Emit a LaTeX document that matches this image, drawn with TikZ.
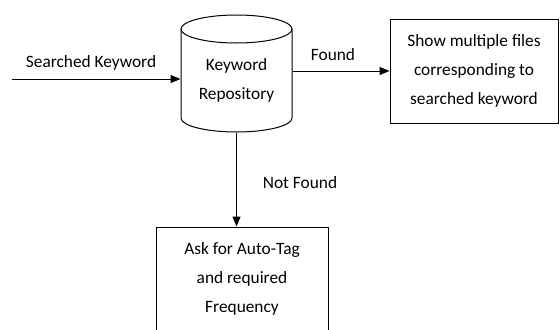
\documentclass[tikz,border=0pt]{standalone}
\usepackage{fontspec}
\setmainfont{Carlito}
\usetikzlibrary{arrows.meta}

\tikzset{every picture/.style={line width=0.75pt}}
\tikzset{
  lbl/.style={font=\fontsize{13}{21.75}\selectfont, inner sep=0pt},
  procbox/.style={draw, align=center, font=\fontsize{13}{21.75}\selectfont, minimum height=78pt},
  flow/.style={-{Triangle[length=7.5pt,width=6pt]}}
}

\begin{document}
\begin{tikzpicture}[x=0.75pt,y=0.75pt,yscale=-1,xscale=1]
    %set diagram size 560 x 329
    \useasboundingbox (0,0) rectangle (560,329);
    \clip (0,0) rectangle (560,329);
    %Shape: Can [id:repo]
    \node[lbl, minimum width=83.25pt, minimum height=87.75pt, align=center] (repo) at (236.5,73.5) {};
    \draw (181,29) -- (181,118) arc (180:0:55.5 and 14) -- (292,29) ;
    \draw (236.5,29) ellipse (55.5 and 14) ;
    \node[lbl, align=center] (repotext) at (236.5,80) {Keyword\\Repository};
    %Shape: Rectangle [id:show]
    \node[procbox, minimum width=126pt] (show) at (474,71) {Show multiple files\\corresponding to\\searched keyword};
    %Shape: Rectangle [id:ask]
    \node[procbox, minimum width=129pt] (ask) at (242,279) {Ask for Auto-Tag\\and required\\Frequency};
    %Straight Lines [id:in]
    \coordinate (in) at (12,79);
    \draw[flow] (in) -- (in -| repo.west);
    \node[lbl] (searched) at (91,63) {Searched Keyword};
    %Straight Lines [id:found]
    \draw[flow] (repo.east |- show) -- (show.west);
    \node[lbl] (found) at (333,55) {Found};
    %Straight Lines [id:notfound]
    \draw[flow] (repo.south) -- (repo.south |- ask.north);
    \node[lbl] (notfound) at (300,183) {Not Found};
\end{tikzpicture}
\end{document}
